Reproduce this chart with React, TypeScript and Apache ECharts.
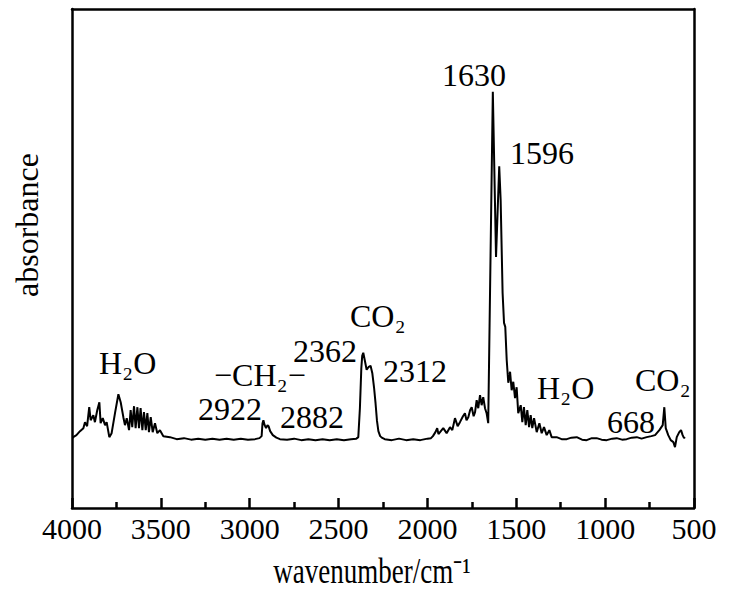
import React, { useEffect, useRef } from "react";
import * as echarts from "echarts";

// Spectrum (wavenumber in cm^-1, absorbance in arbitrary units)
const wavenumber = [
  3995, 3993, 3975, 3955, 3936, 3927, 3915, 3903, 3895, 3880, 3871, 3858, 3846, 3839, 3827, 3814,
  3805, 3790, 3777, 3758, 3739, 3726, 3711, 3702, 3692, 3679, 3670, 3661, 3651, 3642, 3632, 3623,
  3614, 3604, 3595, 3585, 3576, 3567, 3557, 3546, 3533, 3520, 3505, 3486, 3449, 3411, 3370, 3330,
  3290, 3250, 3210, 3170, 3130, 3090, 3050, 3010, 2970, 2945, 2933, 2928, 2923, 2916, 2908, 2900,
  2894, 2885, 2870, 2850, 2830, 2790, 2750, 2710, 2670, 2630, 2590, 2550, 2510, 2470, 2430, 2400,
  2389, 2380, 2372, 2367, 2361, 2352, 2342, 2330, 2320, 2310, 2300, 2292, 2284, 2276, 2266, 2257,
  2240, 2200, 2160, 2120, 2080, 2040, 2000, 1980, 1969, 1955, 1945, 1938, 1929, 1911, 1892, 1873,
  1860, 1845, 1830, 1817, 1800, 1789, 1780, 1770, 1760, 1751, 1740, 1732, 1723, 1714, 1704, 1695,
  1686, 1676, 1667, 1658, 1632, 1614, 1596, 1588, 1577, 1569, 1562, 1554, 1545, 1535, 1526, 1517,
  1507, 1498, 1489, 1475, 1466, 1457, 1447, 1438, 1428, 1419, 1410, 1400, 1385, 1370, 1357, 1344,
  1329, 1314, 1301, 1273, 1245, 1216, 1190, 1160, 1130, 1104, 1075, 1048, 1020, 991, 960, 935,
  905, 879, 850, 822, 795, 766, 740, 719, 695, 676, 667, 659, 645, 631, 616, 607,
  597, 583, 573, 564, 556, 551,
];
const absorbance = [
  14.0, 14.2, 14.6, 15.4, 16.0, 17.2, 16.4, 20.2, 17.6, 18.6, 17.2, 19.6, 21.2, 17.0, 18.0, 16.6,
  17.2, 14.2, 15.0, 19.0, 22.8, 21.2, 18.2, 16.6, 18.0, 15.6, 19.6, 16.2, 20.4, 16.0, 20.2, 16.0,
  20.0, 15.6, 19.2, 15.6, 19.0, 15.2, 18.2, 15.2, 17.0, 15.0, 15.6, 14.4, 14.2, 13.8, 14.0, 13.7,
  13.9, 13.7, 13.9, 13.7, 13.9, 13.7, 13.9, 13.7, 13.8, 14.0, 14.4, 17.0, 17.6, 16.6, 16.0, 16.6,
  16.4, 15.4, 14.6, 14.1, 13.8, 13.7, 13.9, 13.6, 13.8, 13.6, 13.8, 13.6, 13.8, 13.6, 13.8, 13.9,
  14.2, 20.0, 28.0, 30.5, 31.1, 29.5, 27.7, 28.3, 28.5, 27.0, 24.0, 21.0, 17.5, 15.4, 14.4, 14.1,
  13.8, 13.6, 13.9, 13.6, 13.8, 13.6, 13.9, 14.0, 14.4, 15.2, 16.0, 14.8, 15.2, 16.0, 15.0, 16.2,
  15.6, 18.0, 16.4, 17.2, 18.4, 19.0, 17.6, 18.2, 19.6, 20.2, 18.4, 19.2, 21.6, 20.0, 22.6, 20.6,
  22.2, 20.0, 19.0, 17.0, 83.4, 50.3, 68.5, 61.7, 43.1, 37.1, 36.3, 29.7, 25.1, 27.3, 23.6, 25.3,
  22.0, 24.2, 19.0, 20.6, 17.2, 20.2, 16.6, 19.6, 16.2, 18.6, 16.0, 18.0, 15.2, 17.0, 15.0, 16.2,
  14.6, 15.6, 14.2, 14.2, 13.8, 13.8, 14.1, 14.2, 13.7, 13.6, 14.0, 14.0, 13.7, 13.6, 13.9, 14.0,
  13.7, 13.8, 14.1, 14.2, 13.9, 14.2, 14.4, 14.6, 15.6, 16.6, 20.2, 16.0, 14.6, 13.6, 13.2, 12.2,
  14.2, 15.2, 15.6, 14.6, 14.0, 14.2,
];

const xMin = 500;
const xMax = 4000;
const xStep = 500;

const xTitle = "wavenumber/cm\u207B\u00B9";
const yTitle = "absorbance";

// Peak / band annotations
const annotationTexts = [
  "H\u2082O", "\u2212CH\u2082\u2212", "2922", "2882", "2362", "2312", "CO\u2082",
  "1630", "1596", "H\u2082O", "CO\u2082", "668",
];
// label placement (left x, vertical middle y) in pixels
const annotationPos: [number, number][] = [
  [99, 363], [214, 375], [198, 409], [280, 417], [293, 351], [383, 371], [350, 316],
  [442, 75], [510, 153], [537, 388], [635, 380], [607, 422],
];

const FONT = '"Liberation Serif", "Times New Roman", serif';
const frameLine = { show: true, onZero: false, lineStyle: { color: "#000", width: 2.5 } };

export default function App() {
  const ref = useRef<HTMLDivElement>(null);

  useEffect(() => {
    if (!ref.current) return;
    const chart = echarts.init(ref.current, undefined, { renderer: "svg" });
    const data = wavenumber.map((w, i) => [w, absorbance[i]]);

    chart.setOption({
      animation: false,
      backgroundColor: "#ffffff",
      grid: { left: 72, right: 48, top: 9, bottom: 83 },
      xAxis: [
        {
          type: "value",
          position: "bottom",
          min: xMin,
          max: xMax,
          interval: xStep,
          inverse: true,
          axisLine: frameLine,
          axisTick: { show: true, inside: true, length: 10, lineStyle: { color: "#000", width: 2.5 } },
          minorTick: { show: true, splitNumber: 2, length: 6, lineStyle: { color: "#000", width: 2.5 } },
          axisLabel: {
            fontFamily: FONT,
            fontSize: 30,
            color: "#000",
            margin: 5,
            formatter: (v: number) => String(v),
          },
          splitLine: { show: false },
          minorSplitLine: { show: false },
        },
        {
          type: "value",
          position: "top",
          min: xMin,
          max: xMax,
          interval: xStep,
          inverse: true,
          axisLine: frameLine,
          axisTick: { show: false },
          minorTick: { show: false },
          axisLabel: { show: false },
          splitLine: { show: false },
        },
      ],
      yAxis: [
        {
          type: "value",
          position: "left",
          min: 0,
          max: 100,
          axisLine: frameLine,
          axisTick: { show: false },
          axisLabel: { show: false },
          splitLine: { show: false },
        },
        {
          type: "value",
          position: "right",
          min: 0,
          max: 100,
          axisLine: frameLine,
          axisTick: { show: false },
          axisLabel: { show: false },
          splitLine: { show: false },
        },
      ],
      series: [
        {
          type: "line",
          xAxisIndex: 0,
          yAxisIndex: 0,
          data,
          showSymbol: false,
          symbol: "none",
          silent: true,
          lineStyle: { color: "#000", width: 2 },
        },
      ],
      graphic: [
        {
          type: "text",
          x: 372,
          y: 571,
          silent: true,
          scaleY: 1.3,
          style: {
            text: xTitle,
            fontFamily: FONT,
            fontSize: 27,
            fill: "#000",
            align: "center",
            verticalAlign: "middle",
          },
        },
        {
          type: "text",
          x: 27,
          y: 225,
          rotation: Math.PI / 2,
          silent: true,
          style: {
            text: yTitle,
            fontFamily: FONT,
            fontSize: 32,
            fill: "#000",
            align: "center",
            verticalAlign: "middle",
          },
        },
        ...annotationTexts.map((t, i) => ({
          type: "text",
          x: annotationPos[i][0],
          y: annotationPos[i][1],
          silent: true,
          style: {
            text: t,
            fontFamily: FONT,
            fontSize: 32,
            fill: "#000",
            align: "left",
            verticalAlign: "middle",
          },
        })),
      ],
    });

    return () => chart.dispose();
  }, []);

  return (
    <div
      ref={ref}
      style={{ position: "fixed", left: 0, top: 0, width: 742, height: 591, background: "#fff" }}
    />
  );
}
